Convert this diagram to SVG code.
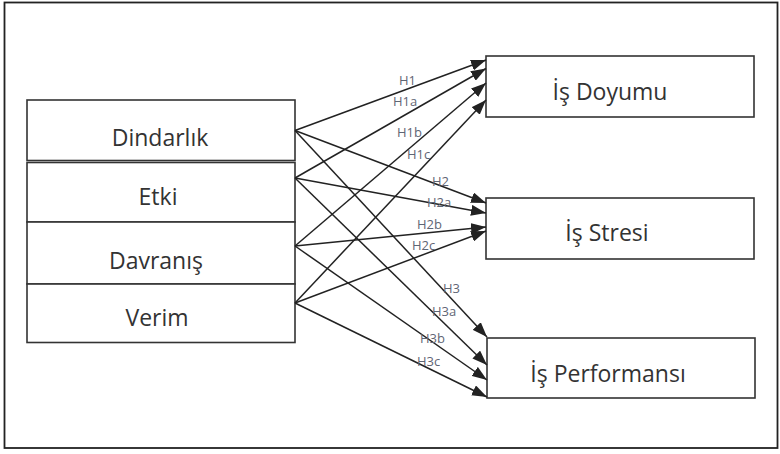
<svg xmlns="http://www.w3.org/2000/svg" width="780" height="454" viewBox="0 0 780 454">
<defs>
<style>
.box{fill:#fff;stroke:#333;stroke-width:1.6}
.frame{fill:#fff;stroke:#222;stroke-width:1.8}
.t{font-family:"Open Sans","Noto Sans",sans-serif;font-size:23px;fill:#333;text-anchor:middle}
.c{stroke:#222;stroke-width:1.5;fill:none;marker-end:url(#ah)}
.lb{font-family:"Open Sans","Noto Sans",sans-serif;font-size:13px;fill:#5f6675}
</style>
<marker id="ah" markerUnits="userSpaceOnUse" markerWidth="15" markerHeight="11" refX="15" refY="5.5" orient="auto" viewBox="0 0 15 11">
<path d="M0,0 L15,5.5 L0,11 z" fill="#222"/>
</marker>
</defs>
<rect class="frame" x="4.5" y="2.5" width="773" height="445.5"/>
<g id="node-dindarlik"><rect class="box" x="27" y="100" width="268" height="60.5"/><text class="t" x="160" y="145.5">Dindarlık</text></g>
<g id="node-etki"><rect class="box" x="27" y="162.5" width="268" height="59.5"/><text class="t" x="158" y="205">Etki</text></g>
<g id="node-davranis"><rect class="box" x="27" y="222" width="268" height="62"/><text class="t" x="156" y="269">Davranış</text></g>
<g id="node-verim"><rect class="box" x="27" y="284" width="268" height="58.5"/><text class="t" x="157" y="326">Verim</text></g>
<g id="node-is-doyumu"><rect class="box" x="486" y="56" width="268" height="61"/><text class="t" x="610" y="100">İş Doyumu</text></g>
<g id="node-is-stresi"><rect class="box" x="486" y="198" width="268" height="61"/><text class="t" x="607" y="241">İş Stresi</text></g>
<g id="node-is-performansi"><rect class="box" x="487" y="338" width="268" height="60"/><text class="t" x="608" y="382">İş Performansı</text></g>
<g id="connectors">
<line class="c" x1="295" y1="130.5" x2="486" y2="60"/>
<line class="c" x1="295" y1="178" x2="486" y2="68.5"/>
<line class="c" x1="295" y1="246" x2="486" y2="83"/>
<line class="c" x1="295" y1="303" x2="486" y2="100"/>
<line class="c" x1="295" y1="130.5" x2="486" y2="203"/>
<line class="c" x1="295" y1="178" x2="486" y2="213"/>
<line class="c" x1="295" y1="246" x2="486" y2="227"/>
<line class="c" x1="295" y1="303" x2="486" y2="231"/>
<line class="c" x1="295" y1="130.5" x2="487" y2="337"/>
<line class="c" x1="295" y1="178" x2="487" y2="365"/>
<line class="c" x1="295" y1="246" x2="487" y2="380"/>
<line class="c" x1="295" y1="303" x2="487" y2="397"/>
</g>
<g id="labels">
<text class="lb" x="399" y="85">H1</text>
<text class="lb" x="393" y="106">H1a</text>
<text class="lb" x="397" y="137">H1b</text>
<text class="lb" x="407" y="159">H1c</text>
<text class="lb" x="432" y="186">H2</text>
<text class="lb" x="427" y="207">H2a</text>
<text class="lb" x="417" y="229">H2b</text>
<text class="lb" x="412" y="250">H2c</text>
<text class="lb" x="443" y="293">H3</text>
<text class="lb" x="432" y="316">H3a</text>
<text class="lb" x="420" y="343">H3b</text>
<text class="lb" x="417" y="366">H3c</text>
</g>
</svg>
